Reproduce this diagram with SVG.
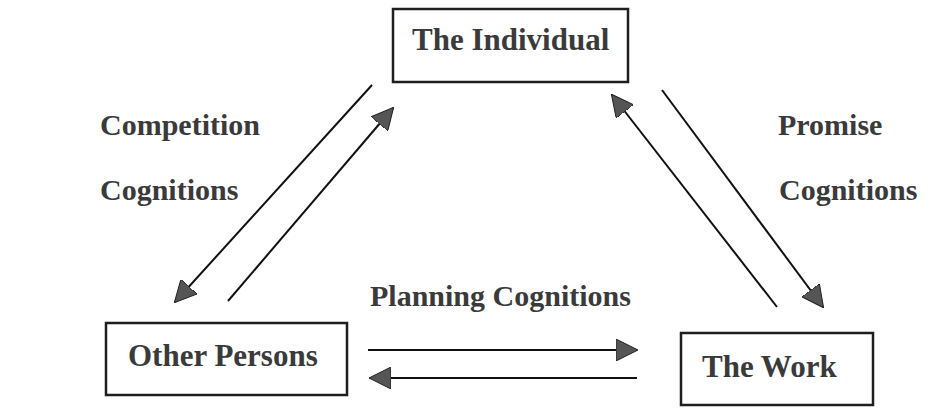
<svg xmlns="http://www.w3.org/2000/svg" width="927" height="415" viewBox="0 0 927 415">
  <style>
    .box { fill: #ffffff; stroke: #1e1e1e; stroke-width: 2.5; }
    .label { font-family: "Liberation Serif", "Times New Roman", serif; font-weight: bold; font-size: 30px; fill: #3a3a3a; }
    .title { font-size: 31px; }
    .link { stroke: #111111; stroke-width: 2; fill: none; marker-end: url(#head); }
  </style>
  <defs>
    <!-- filled triangular arrowhead shared by every connector -->
    <marker id="head" viewBox="0 0 22 22" refX="21" refY="11" markerWidth="22" markerHeight="22" markerUnits="userSpaceOnUse" orient="auto">
      <path d="M0,0 L22,11 L0,22 Z" fill="#555555" stroke="#222222" stroke-width="1"/>
    </marker>
  </defs>
  <rect width="927" height="415" fill="#ffffff"/>

  <g id="individual">
    <rect class="box" x="393" y="9" width="235" height="73"/>
    <text class="label title" x="412" y="50">The Individual</text>
  </g>
  <g id="other-persons">
    <rect class="box" x="106" y="323" width="241" height="72"/>
    <text class="label title" x="128" y="366">Other Persons</text>
  </g>
  <g id="the-work">
    <rect class="box" x="681" y="333" width="192" height="72"/>
    <text class="label title" x="702" y="377">The Work</text>
  </g>

  <g id="labels">
    <text class="label" x="100" y="135">Competition</text>
    <text class="label" x="100" y="200">Cognitions</text>
    <text class="label" x="778" y="135">Promise</text>
    <text class="label" x="779" y="200">Cognitions</text>
    <text class="label" x="370" y="306" font-size="29">Planning Cognitions</text>
  </g>

  <g id="connectors">
    <line class="link" x1="372" y1="85" x2="175" y2="302"/>
    <line class="link" x1="228" y1="301" x2="393" y2="108"/>
    <line class="link" x1="777" y1="307" x2="612" y2="95"/>
    <line class="link" x1="662" y1="90" x2="823" y2="307"/>
    <line class="link" x1="368" y1="350" x2="637" y2="350"/>
    <line class="link" x1="637" y1="378" x2="370" y2="378"/>
  </g>
</svg>
